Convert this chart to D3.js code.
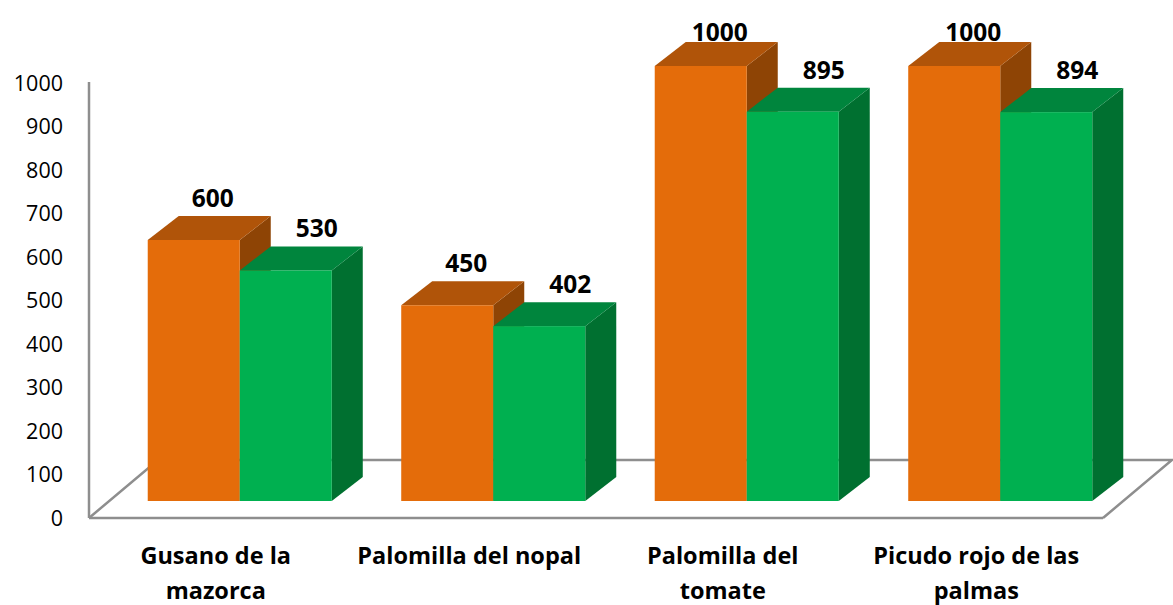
<!DOCTYPE html>
<html><head><meta charset="utf-8">
<script src="https://cdn.jsdelivr.net/npm/d3@7"></script>
<style>body{margin:0;background:#fff}svg{display:block}</style>
</head><body>
<svg id="c" width="1173" height="605"></svg>
<script>
const categories = [["Gusano de la","mazorca"],["Palomilla del nopal"],["Palomilla del","tomate"],["Picudo rojo de las","palmas"]];
const seriesNames = ["A","B"];
const seriesA = [600, 450, 1000, 1000];
const seriesB = [530, 402, 895, 894];
const yTicks = [0,100,200,300,400,500,600,700,800,900,1000];

const colors = {
  A: {front:"#E46C0A", top:"#B05409", side:"#8E4405"},
  B: {front:"#00B050", top:"#00853D", side:"#007030"}
};

const svg = d3.select("#c");
const floorX0 = 89, floorX1 = 1103, floorY = 518;
const floorDX = 69, floorDY = -58;
const planeDX = 24, planeDY = -17;
const depthDX = 31, depthDY = -24;

const yAxisScale = d3.scaleLinear().domain([0,1000]).range([floorY, floorY-435]);
const yBar = d3.scaleLinear().domain([0,1000]).range([floorY+planeDY, floorY+planeDY-435]);
const xCatFloor = d3.scaleBand().domain(d3.range(4)).range([floorX0, floorX1]);
const xCat = d3.scaleBand().domain(d3.range(4)).range([floorX0+planeDX, floorX1+planeDX]).paddingInner(0.274).paddingOuter(0.137);
const xSer = d3.scaleBand().domain(seriesNames).range([0, xCat.bandwidth()]);

const grey = "#8E8E8E";
const g = svg.append("g");
g.append("path").attr("d", `M${floorX0},${floorY} L${floorX0+floorDX},${floorY+floorDY} L${floorX1+floorDX},${floorY+floorDY} L${floorX1},${floorY}`)
  .attr("fill","none").attr("stroke",grey).attr("stroke-width",2.5);
g.append("line").attr("x1",floorX0).attr("x2",floorX1).attr("y1",floorY).attr("y2",floorY).attr("stroke",grey).attr("stroke-width",2.5);
g.append("line").attr("x1",floorX0).attr("x2",floorX0).attr("y1",floorY).attr("y2",yAxisScale(1000)-1).attr("stroke",grey).attr("stroke-width",2.5);

svg.append("g").selectAll("text").data(yTicks).join("text")
  .attr("x",63).attr("y",d=>yAxisScale(d)).attr("dy","0.36em")
  .attr("text-anchor","end").attr("font-family","'Open Sans', sans-serif").attr("font-size",21.5).attr("fill","#000")
  .text(d=>d);

const bars = [];
categories.forEach((c,i)=>{
  [["A",seriesA[i]],["B",seriesB[i]]].forEach(([s,v])=>{
    bars.push({i,s,v,x:xCat(i)+xSer(s),w:xSer.bandwidth(),y:yBar(v),y0:yBar(0)});
  });
});
const bg = svg.append("g");
bars.forEach(b=>{
  const c = colors[b.s];
  const xr = b.x+b.w;
  bg.append("path").attr("d",`M${xr},${b.y} L${xr+depthDX},${b.y+depthDY} L${xr+depthDX},${b.y0+depthDY} L${xr},${b.y0}Z`).attr("fill",c.side);
  bg.append("path").attr("d",`M${b.x},${b.y} L${b.x+depthDX},${b.y+depthDY} L${xr+depthDX},${b.y+depthDY} L${xr},${b.y}Z`).attr("fill",c.top);
  bg.append("rect").attr("x",b.x).attr("y",b.y).attr("width",b.w).attr("height",b.y0-b.y).attr("fill",c.front);
});
svg.append("g").selectAll("text").data(bars).join("text")
  .attr("x",b=>b.x+b.w/2+(b.s==="A"?19:31)).attr("y",b=>Math.max(41,b.y+depthDY-9))
  .attr("text-anchor","middle").attr("font-family","'Open Sans', sans-serif").attr("font-weight","bold").attr("font-size",24.5).attr("fill","#000")
  .text(b=>b.v);

const cg = svg.append("g");
categories.forEach((lines,i)=>{
  const cx = xCatFloor(i)+xCatFloor.bandwidth()/2;
  const t = cg.append("text").attr("x",cx).attr("y",564)
    .attr("text-anchor","middle").attr("font-family","'Open Sans', sans-serif").attr("font-weight","bold").attr("font-size",23.5).attr("fill","#000");
  lines.forEach((l,k)=>t.append("tspan").attr("x",cx).attr("dy",k?35:0).text(l));
});
</script>
</body></html>
